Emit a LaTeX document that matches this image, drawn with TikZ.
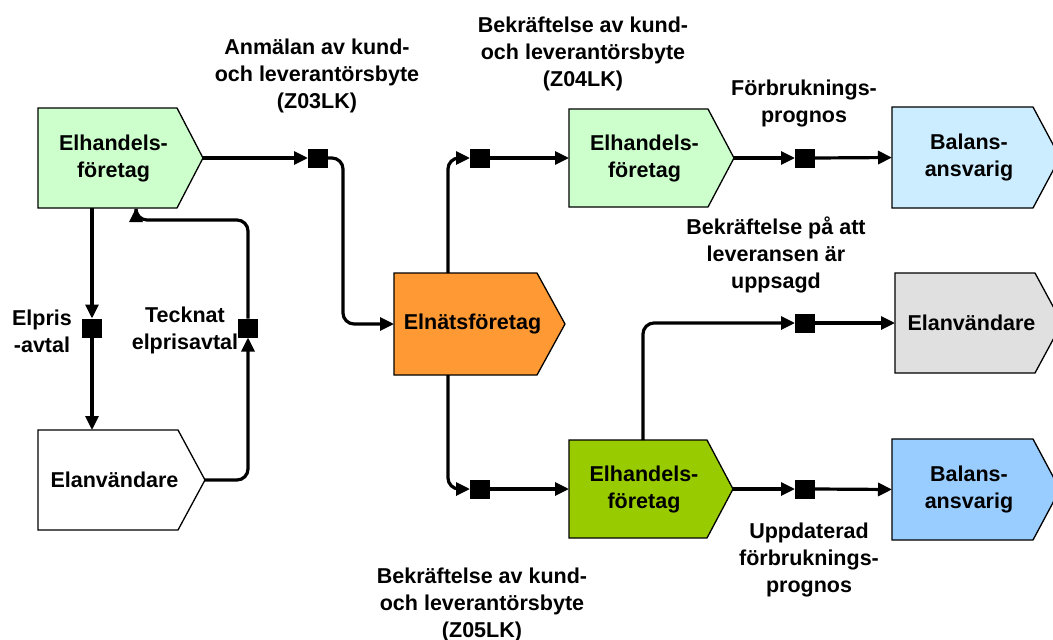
\documentclass[tikz,border=0pt]{standalone}
\usepackage{fontspec}
\setmainfont{Liberation Sans}
\usetikzlibrary{arrows.meta,calc}
\definecolor{lgreen}{HTML}{CCFFCC}
\definecolor{orng}{HTML}{FF9933}
\definecolor{lblue}{HTML}{CCECFF}
\definecolor{lgray}{HTML}{E0E0E0}
\definecolor{dgreen}{HTML}{99CC00}
\definecolor{mblue}{HTML}{99CCFF}
\tikzset{
  boxshape/.style={draw=black,line width=1.3pt,line join=miter},
  boxtext/.style={font=\bfseries\fontsize{21.5}{27}\selectfont,align=center,inner sep=0},
  lbl/.style={font=\bfseries\fontsize{21.5}{27}\selectfont,align=center,inner sep=0},
  sq/.style={fill=black,draw=none,minimum width=20pt,minimum height=19pt,inner sep=0,outer sep=0},
  conn/.style={line width=3.2pt,rounded corners=11pt},
  arr/.style={conn,-{Triangle[length=14pt,width=13pt]}},
}
\newcommand\pbox[8]{%
  \path[boxshape,fill=#7] (#2,#3) -- (#4,#3) -- (#5,{(#3+#6)/2}) -- (#4,#6) -- (#2,#6) -- cycle;
  \node[inner sep=0,outer sep=0,minimum width={#5pt-#2pt},minimum height={#6pt-#3pt}] (#1) at ({(#2+#5)/2},{(#3+#6)/2}) {};
  \node[boxtext] (#1t) at ($(#1.center)+(-7,0)$) {#8};
}
\begin{document}
\begin{tikzpicture}[x=1pt,y=-1pt]
\useasboundingbox (0,0) rectangle (1053,640);
\begin{scope}
\clip (0,0) rectangle (1053,640);
% boxes
\pbox{e1}{38}{108}{177}{203}{208}{lgreen}{Elhandels-\\företag}
\pbox{ea}{38}{430}{178}{205}{530}{white}{Elanvändare}
\pbox{elnat}{394}{273}{537}{565}{375}{orng}{Elnätsföretag}
\pbox{e2}{569}{109}{708}{734}{207}{lgreen}{Elhandels-\\företag}
\pbox{b1}{892}{107}{1033}{1060}{208}{lblue}{Balans-\\ansvarig}
\pbox{ea2}{895}{273}{1035}{1062}{373}{lgray}{Elanvändare}
\pbox{e3}{569}{440}{707}{733}{538}{dgreen}{Elhandels-\\företag}
\pbox{b2}{892}{439}{1033}{1060}{540}{mblue}{Balans-\\ansvarig}
\end{scope}
% squares
\node[sq] (s1) at (318,158) {};
\node[sq] (s2) at (480,158) {};
\node[sq] (s3) at (805,158) {};
\node[sq] (s4) at (92,328) {};
\node[sq] (s5) at (248,328) {};
\node[sq] (s6) at (805,323) {};
\node[sq] (s7) at (480,489) {};
\node[sq] (s8) at (805,489) {};
% connectors
\draw[arr] (e1.east) -- (s1.west);
\draw[arr] (s1.east) -| ($(elnat.west)+(-51,0)$) -- (elnat.west);
\draw[arr] ($(elnat.north west)+(54,0)$) |- (s2.west);
\draw[arr] (s2.east) -- (e2.west);
\draw[arr] (e2.east) -- (s3.west);
\draw[arr] (s3.east) -- (b1.west);
\draw[arr] ($(elnat.south west)+(54,0)$) |- (s7.west);
\draw[arr] (s7.east) -- (e3.west);
\draw[arr] (e3.east) -- (s8.west);
\draw[arr] (s8.east) -- (b2.west);
\draw[arr] ($(e3.north west)+(74,0)$) |- (s6.west);
\draw[arr] (s6.east) -- (ea2.west);
\draw[arr] ($(e1.south west)+(54,0)$) -- (s4.north);
\draw[arr] (s4.south) -- ($(ea.north west)+(54,0)$);
\draw[arr] (ea.east) -| (s5.south);
\draw[arr] (s5.north) |- ($(e1.south west)+(98,12)$) -- ($(e1.south west)+(98,0)$);
% labels
\node[lbl] (l1) at (317,76) {Anmälan av kund-\\och leverantörsbyte\\(Z03LK)};
\node[lbl] (l2) at (583,54) {Bekräftelse av kund-\\och leverantörsbyte\\(Z04LK)};
\node[lbl] (l3) at (804,103) {Förbruknings-\\prognos};
\node[lbl] (l4) at (776,255) {Bekräftelse på att\\leveransen är\\uppsagd};
\node[lbl] (l5) at (42,331) {Elpris\\-avtal};
\node[lbl] (l6) at (185,330) {Tecknat\\elprisavtal};
\node[lbl] (l7) at (809,560) {Uppdaterad\\förbruknings-\\prognos};
\node[lbl] (l8) at (482,605) {Bekräftelse av kund-\\och leverantörsbyte\\(Z05LK)};
\end{tikzpicture}
\end{document}
